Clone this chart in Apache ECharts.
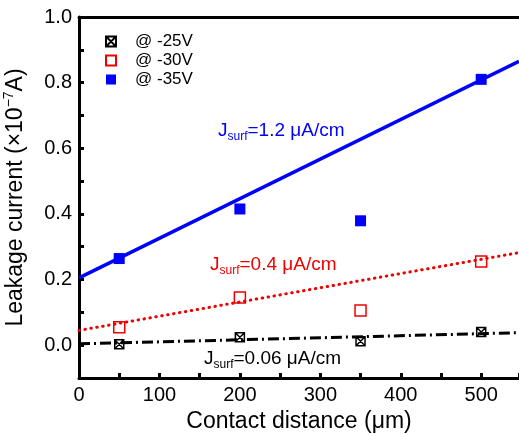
<!DOCTYPE html>
<html>
<head>
    <meta charset="UTF-8">
    <title>Leakage current vs contact distance</title>
    <script src="https://cdn.jsdelivr.net/npm/echarts@6/dist/echarts.min.js"></script>
</head>
<body style="margin:0;">
<div id="main" style="width:519px; height:435px;"></div>
<script>
    // measured points, x = contact distance (um), y = leakage current (x1e-7 A)
    var distances = [50, 200, 350, 500];
    var v25 = [0.003, 0.024, 0.012, 0.040];
    var v30 = [0.055, 0.145, 0.106, 0.255];
    var v35 = [0.264, 0.415, 0.379, 0.810];

    // fit lines, end points
    var fit25 = [[0, 0.004], [547, 0.038]];
    var fit30 = [[0, 0.045], [547, 0.282]];
    var fit35 = [[0, 0.205], [547, 0.865]];

    var seriesNames = ['@ -25V', '@ -30V', '@ -35V'];

    function pairs(xs, ys) {
        return xs.map(function (x, i) { return [x, ys[i]]; });
    }

    var font = 'Liberation Sans, Arial, sans-serif';
    var crossBox = 'path://M0 0 L10 0 L10 10 L0 10 Z M0 0 L10 10 M10 0 L0 10';

    function jsurf(val, color) {
        return {
            text: '{j|J}{s|surf}{j|=' + val + ' μA/cm}',
            fill: color,
            font: '19px ' + font,
            rich: {
                j: {fontSize: 19, fontFamily: font, fill: color, lineHeight: 22, verticalAlign: 'top'},
                s: {fontSize: 12, fontFamily: font, fill: color, lineHeight: 14, verticalAlign: 'bottom'}
            }
        };
    }

    var chart = echarts.init(document.getElementById('main'), null, {renderer: 'canvas'});
    var option = {
        backgroundColor: '#fff',
        animation: false,
        grid: {left: 79, top: 17, right: 0, bottom: 57, containLabel: false, outerBoundsMode: 'none'},
        legend: {
            orient: 'vertical',
            left: 105,
            top: 33,
            padding: 0,
            itemWidth: 10,
            itemHeight: 10,
            itemGap: 2,
            data: seriesNames,
            textStyle: {fontSize: 17, fontFamily: font, color: '#000', padding: [0, 0, 0, 14]}
        },
        xAxis: [{
            type: 'value',
            min: 0,
            max: 547,
            interval: 50,
            position: 'bottom',
            name: 'Contact distance (μm)',
            nameLocation: 'middle',
            nameGap: 31,
            nameTextStyle: {fontSize: 23, fontFamily: font, color: '#000'},
            axisLine: {onZero: false, lineStyle: {color: '#000', width: 3}},
            axisTick: {inside: true, length: 5, lineStyle: {color: '#000', width: 3}},
            axisLabel: {
                fontSize: 20, fontFamily: font, color: '#000', margin: 7,
                formatter: function (v) { return v % 100 === 0 ? String(v) : ''; }
            },
            splitLine: {show: false}
        }, {
            type: 'value',
            min: 0,
            max: 547,
            position: 'top',
            axisLine: {onZero: false, lineStyle: {color: '#000', width: 3}},
            axisTick: {show: false},
            axisLabel: {show: false},
            splitLine: {show: false}
        }],
        yAxis: {
            type: 'value',
            min: -0.1,
            max: 1.0,
            interval: 0.1,
            name: 'Leakage current (×10{p|−7}A)',
            nameLocation: 'middle',
            nameGap: 49,
            nameTextStyle: {
                fontSize: 23, fontFamily: font, color: '#000', lineHeight: 28,
                rich: {p: {fontSize: 14, fontFamily: font, color: '#000', lineHeight: 14, verticalAlign: 'top'}}
            },
            axisLine: {onZero: false, lineStyle: {color: '#000', width: 3}},
            axisTick: {inside: true, length: 5, lineStyle: {color: '#000', width: 3}},
            axisLabel: {
                fontSize: 20, fontFamily: font, color: '#000', margin: 7,
                formatter: function (v) {
                    var k = Math.round(v * 10);
                    return (k % 2 === 0) ? (k / 10).toFixed(1) : '';
                }
            },
            splitLine: {show: false}
        },
        graphic: [
            {type: 'text', left: 218, top: 121, style: jsurf('1.2', '#0000ff'), z: 100},
            {type: 'text', left: 210, top: 255, style: jsurf('0.4', '#ee0000'), z: 100},
            {type: 'text', left: 204, top: 349, style: jsurf('0.06', '#000'), z: 100}
        ],
        series: [
            {
                name: 'fit -35V', type: 'line', data: fit35, showSymbol: false, silent: true,
                lineStyle: {color: '#0000ff', width: 3.5}
            },
            {
                name: 'fit -30V', type: 'line', data: fit30, showSymbol: false, silent: true,
                lineStyle: {color: '#ee0000', width: 3, type: [0.5, 5.5], cap: 'round'}
            },
            {
                name: 'fit -25V', type: 'line', data: fit25, showSymbol: false, silent: true,
                lineStyle: {color: '#000', width: 3, type: [11, 4, 2, 4]}
            },
            {
                name: seriesNames[0], type: 'scatter', data: pairs(distances, v25),
                symbol: crossBox, symbolSize: 9,
                itemStyle: {color: '#fff', borderColor: '#000', borderWidth: 1.5, opacity: 1}
            },
            {
                name: seriesNames[1], type: 'scatter', data: pairs(distances, v30),
                symbol: 'rect', symbolSize: 11,
                itemStyle: {color: '#fff', borderColor: '#ee0000', borderWidth: 1.5, opacity: 1}
            },
            {
                name: seriesNames[2], type: 'scatter', data: pairs(distances, v35),
                symbol: 'rect', symbolSize: 11,
                itemStyle: {color: '#0000ff', opacity: 1}
            }
        ]
    };
    chart.setOption(option);
</script>
</body>
</html>
